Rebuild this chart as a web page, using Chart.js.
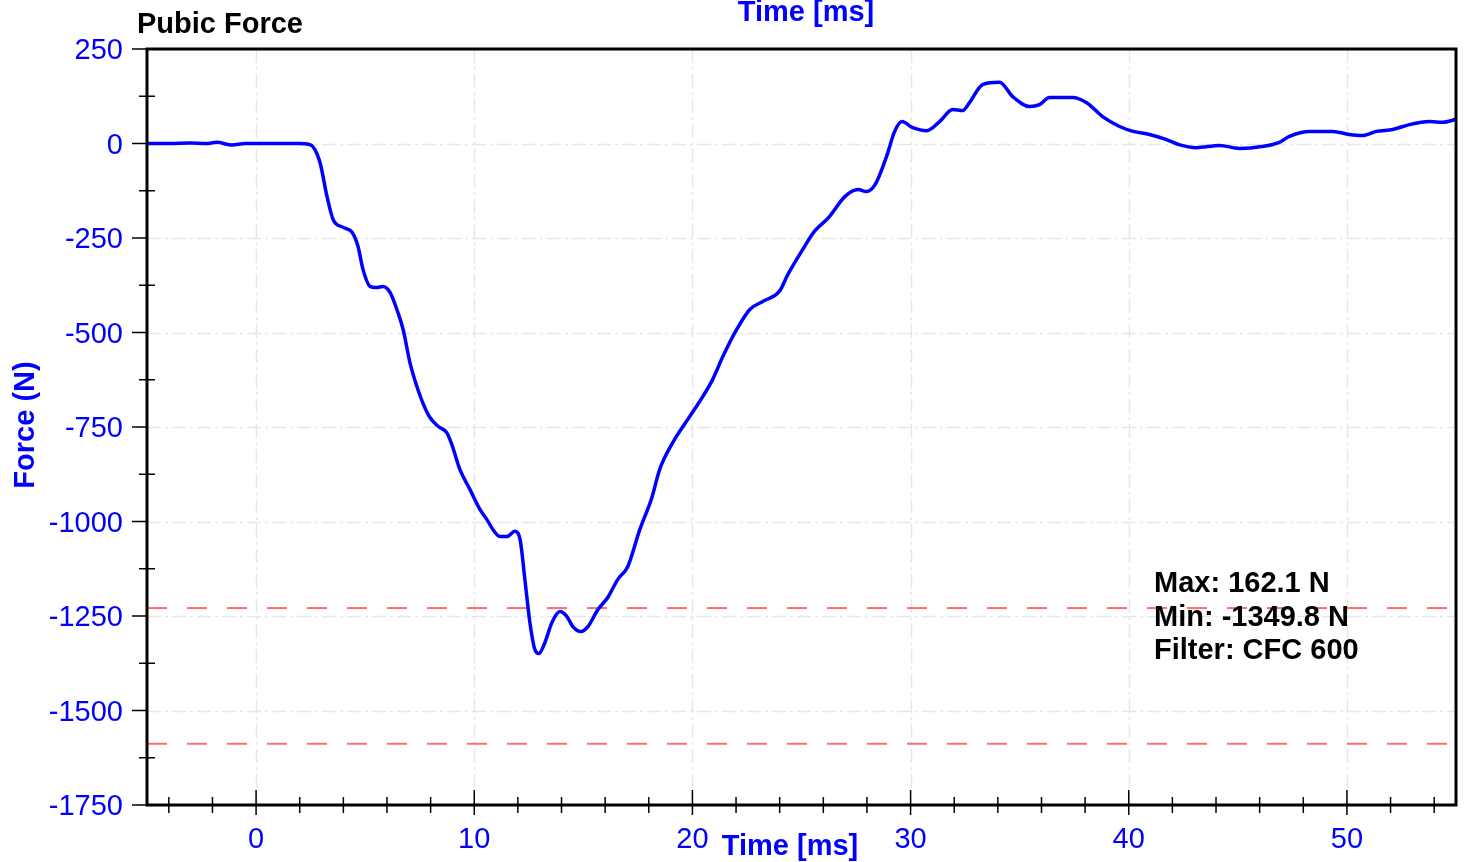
<!DOCTYPE html>
<html>
<head>
<meta charset="utf-8">
<script src="https://cdn.jsdelivr.net/npm/chart.js@4/dist/chart.umd.min.js"></script>
<style>
    html, body { margin: 0; padding: 0; background: #ffffff; }
    #wrap { width: 1466px; height: 862px; }
</style>
</head>
<body>
<div id="wrap"><canvas id="pubic" width="1466" height="862"></canvas></div>
<script>
// Temps (ms) et effort pubien (N)
const timeMs = [-5, -4, -3, -2.3, -1.8, -1.1, -0.5, 0, 1, 2, 2.4, 2.6, 2.93, 3.25, 3.53, 3.99, 4.4, 4.67, 4.9, 5.22,
    5.5, 5.82, 6.14, 6.5, 6.74, 7.05, 7.37, 7.67, 7.97, 8.34, 8.74, 8.97, 9.34, 9.8, 10.26, 10.58, 10.9, 11.18, 11.5, 11.86,
    12.1, 12.32, 12.55, 12.78, 12.96, 13.24, 13.56, 13.93, 14.24, 14.52, 14.89, 15.21, 15.67, 16.12, 16.58, 17.04, 17.59, 18.14,
    18.5, 19.1, 19.88, 20.48, 20.93, 21.4, 22.03, 22.63, 23.22, 24.0, 24.37, 25.06, 25.6, 26.24, 27.0, 27.6, 27.97, 28.38,
    28.9, 29.27, 29.6, 30.1, 30.74, 31.33, 31.93, 32.39, 32.7, 33.3, 34.08, 34.68, 35.46, 35.91, 36.37, 37.43, 38.07, 38.8,
    39.58, 40.2, 40.95, 41.7, 42.3, 43.1, 44.16, 45.07, 46.1, 46.9, 47.36, 48.3, 49.35, 50.1, 50.7, 51.35, 52.1, 52.86,
    53.8, 54.4, 55];
const forceN = [0, 0, 1, 0, 3, -4, 0, 0, 0, 0, -2, -8, -50, -140, -201, -222, -235, -272, -333, -378,
    -381, -378, -394, -447, -492, -579, -643, -690, -725, -748, -765, -796, -862, -915, -968, -995, -1025, -1040, -1040, -1026,
    -1047, -1153, -1267, -1339, -1349, -1320, -1267, -1238, -1251, -1278, -1291, -1278, -1233, -1201, -1153, -1119, -1021, -937,
    -862, -791, -722, -669, -624, -563, -492, -439, -418, -390, -347, -280, -232, -196, -140, -122, -127, -108,
    -34, 32, 58, 42, 34, 58, 90, 87, 108, 156, 162, 124, 98, 103, 122, 122, 108, 71,
    45, 32, 24, 11, -3, -11, -5, -13, -8, 3, 19, 32, 32, 24, 21, 32, 37, 50,
    58, 56, 64];

// limites (lignes rouges pointillées)
const limitValues = [-1229, -1588];

// graduations
const xTickValues = [0, 10, 20, 30, 40, 50];
const xMinorValues = [-4, -2, 2, 4, 6, 8, 12, 14, 16, 18, 22, 24, 26, 28, 32, 34, 36, 38, 42, 44, 46, 48, 52, 54];
const yTickValues = [250, 0, -250, -500, -750, -1000, -1250, -1500, -1750];
const yMinorValues = [125, -125, -375, -625, -875, -1125, -1375, -1625];

const statLines = ['Max: 162.1 N', 'Min: -1349.8 N', 'Filter: CFC 600'];

const BLUE = '#0000ff';
const FONT = '"Liberation Sans", Arial, sans-serif';

const curveData = timeMs.map((t, i) => ({x: t, y: forceN[i]}));

const limitSets = limitValues.map(v => ({
    data: [{x: -5, y: v}, {x: 55, y: v}],
    borderColor: 'rgba(255, 85, 85, 0.85)',
    borderWidth: 2,
    borderDash: [20, 20],
    pointRadius: 0,
    order: 2,
}));

// dessin des axes, graduations et textes
const decorPlugin = {
    id: 'decor',
    beforeDatasetsDraw(chart) {
        const {ctx, chartArea: a, scales: {x, y}} = chart;
        ctx.save();
        ctx.strokeStyle = '#e6e6e6';
        ctx.lineWidth = 1.5;
        ctx.setLineDash([14, 4, 3, 4]);
        xTickValues.forEach(v => {
            const px = Math.round(x.getPixelForValue(v)) + 0.5;
            ctx.beginPath();
            ctx.moveTo(px, a.top);
            ctx.lineTo(px, a.bottom);
            ctx.stroke();
        });
        yTickValues.forEach(v => {
            const py = Math.round(y.getPixelForValue(v)) + 0.5;
            ctx.beginPath();
            ctx.moveTo(a.left, py);
            ctx.lineTo(a.right, py);
            ctx.stroke();
        });
        ctx.restore();
    },
    afterDatasetsDraw(chart) {
        const {ctx, chartArea: a, scales: {x, y}} = chart;
        ctx.save();

        // cadre
        ctx.strokeStyle = '#000';
        ctx.lineWidth = 3;
        ctx.strokeRect(a.left, a.top, a.right - a.left, a.bottom - a.top);

        // graduations
        ctx.lineWidth = 1.5;
        xTickValues.forEach(v => {
            const px = x.getPixelForValue(v);
            ctx.beginPath();
            ctx.moveTo(px, a.bottom - 15);
            ctx.lineTo(px, a.bottom + 10);
            ctx.stroke();
        });
        xMinorValues.forEach(v => {
            const px = x.getPixelForValue(v);
            ctx.beginPath();
            ctx.moveTo(px, a.bottom - 8);
            ctx.lineTo(px, a.bottom + 8);
            ctx.stroke();
        });
        yTickValues.forEach(v => {
            const py = y.getPixelForValue(v);
            ctx.beginPath();
            ctx.moveTo(a.left - 15, py);
            ctx.lineTo(a.left, py);
            ctx.stroke();
        });
        yMinorValues.forEach(v => {
            const py = y.getPixelForValue(v);
            ctx.beginPath();
            ctx.moveTo(a.left - 8, py);
            ctx.lineTo(a.left + 8, py);
            ctx.stroke();
        });

        // libellés des graduations
        ctx.fillStyle = BLUE;
        ctx.font = '29px ' + FONT;
        ctx.textAlign = 'right';
        ctx.textBaseline = 'alphabetic';
        yTickValues.forEach(v => {
            ctx.fillText(String(v), a.left - 24, y.getPixelForValue(v) + 10);
        });
        ctx.textAlign = 'center';
        xTickValues.forEach(v => {
            ctx.fillText(String(v), x.getPixelForValue(v), a.bottom + 43);
        });

        // titres
        ctx.font = 'bold 29px ' + FONT;
        ctx.fillText('Time [ms]', 806, 21);
        ctx.fillText('Time [ms]', 790, 855);
        ctx.save();
        ctx.translate(34, 425);
        ctx.rotate(-Math.PI / 2);
        ctx.fillText('Force (N)', 0, 0);
        ctx.restore();

        ctx.fillStyle = '#000';
        ctx.textAlign = 'left';
        ctx.fillText('Pubic Force', 137, 33);

        statLines.forEach((line, i) => {
            ctx.fillText(line, 1154, 592 + i * 33.5);
        });
        ctx.restore();
    }
};

const ctx = document.getElementById('pubic').getContext('2d');
window.pubicChart = new Chart(ctx, {
    type: 'line',
    data: {
        datasets: [{
            label: 'Pubic Force',
            data: curveData,
            borderColor: BLUE,
            borderWidth: 3.5,
            pointRadius: 0,
            cubicInterpolationMode: 'monotone',
            borderJoinStyle: 'round',
            borderCapStyle: 'round',
            order: 1,
        }, ...limitSets],
    },
    options: {
        responsive: false,
        animation: false,
        devicePixelRatio: 1,
        layout: {padding: {top: 49, right: 10, left: 0, bottom: 0}},
        plugins: {legend: {display: false}, tooltip: {enabled: false}},
        scales: {
            x: {
                type: 'linear',
                min: -5,
                max: 55,
                grid: {display: false, drawTicks: false},
                border: {display: false},
                ticks: {display: false},
                afterFit: scale => { scale.height = 57; },
            },
            y: {
                type: 'linear',
                min: -1750,
                max: 250,
                grid: {display: false, drawTicks: false},
                border: {display: false},
                ticks: {display: false},
                afterFit: scale => { scale.width = 147; },
            },
        },
    },
    plugins: [decorPlugin],
});
</script>
</body>
</html>
